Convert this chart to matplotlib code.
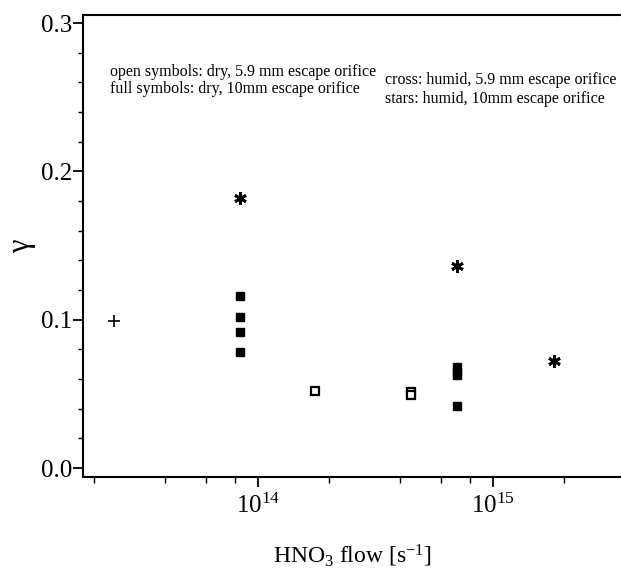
import math
import matplotlib
matplotlib.use("Agg")
import matplotlib.pyplot as plt
from matplotlib.ticker import FixedLocator, FuncFormatter, MultipleLocator, NullFormatter

plt.rcParams['font.family'] = ['Liberation Serif', 'DejaVu Serif']
plt.rcParams['mathtext.fontset'] = 'custom'
plt.rcParams['mathtext.rm'] = 'Liberation Serif'
plt.rcParams['mathtext.it'] = 'Liberation Serif:italic'

# cross: humid, 5.9 mm orifice
cross_x = [2.44e13]
cross_y = [0.099]
# full symbols: dry, 10 mm orifice
full_x = [8.4e13, 8.4e13, 8.4e13, 8.4e13, 7.0e14, 7.0e14, 7.0e14, 7.0e14]
full_y = [0.116, 0.102, 0.092, 0.078, 0.068, 0.065, 0.063, 0.042]
# open symbols: dry, 5.9 mm orifice
open_x = [1.74e14, 4.48e14, 4.48e14]
open_y = [0.052, 0.0515, 0.0495]
# stars: humid, 10 mm orifice
star_x = [8.4e13, 7.0e14, 1.82e15]
star_y = [0.182, 0.136, 0.072]

x_ticks = [1e14, 1e15]
y_ticks = [0.0, 0.1, 0.2, 0.3]

fig = plt.figure(figsize=(6.21, 5.88), dpi=100)
ax = fig.add_axes([0.1337, 0.1888, 0.8663, 0.7857])

ax.plot(cross_x, cross_y, linestyle='none', marker='+', ms=9, mew=1.2, color='black')
ax.plot(full_x, full_y, linestyle='none', marker='s', ms=6, color='black')
ax.plot(open_x, open_y, linestyle='none', marker='s', ms=6, mfc='white', mec='black', mew=1.6)
ax.plot(star_x, star_y, linestyle='none', marker=(6, 2, 0), ms=9, mew=2.0, color='black')

ax.set_xscale('log')
ax.set_xlim(1.80e13, 3.5e15)
ax.set_ylim(-0.006, 0.3055)

ax.xaxis.set_major_locator(FixedLocator(x_ticks))
ax.xaxis.set_major_formatter(FuncFormatter(lambda v, p: r'$\mathregular{10^{%d}}$' % round(math.log10(v))))
minors = [m * 10.0 ** e for e in (13, 14, 15) for m in (2, 4, 6, 8)]
ax.xaxis.set_minor_locator(FixedLocator(minors))
ax.xaxis.set_minor_formatter(NullFormatter())

ax.yaxis.set_major_locator(FixedLocator(y_ticks))
ax.yaxis.set_major_formatter(FuncFormatter(lambda v, p: '%.1f' % v))
ax.yaxis.set_minor_locator(MultipleLocator(0.02))

for s in ('left', 'bottom', 'top'):
    ax.spines[s].set_linewidth(1.5)
ax.spines['right'].set_visible(False)

ax.tick_params(axis='both', which='major', direction='out', length=7, width=1.3, colors='black')
ax.tick_params(axis='both', which='minor', direction='out', length=3.5, width=1.0)
ax.tick_params(axis='x', which='minor', length=4)
ax.tick_params(axis='y', which='major', labelsize=18, pad=1)
ax.tick_params(axis='x', which='major', labelsize=18, pad=5)

ax.set_xlabel(r'HNO$_3$ flow [s$^{\mathregular{-1}}$]', fontsize=17, labelpad=18)
ax.set_ylabel('γ', fontsize=22, labelpad=3)

tk = dict(transform=ax.transAxes, fontsize=11.5, ha='left', va='center')
ax.text(0.050, 0.877, 'open symbols: dry, 5.9 mm escape orifice', **tk)
ax.text(0.050, 0.840, 'full symbols: dry, 10mm escape orifice', **tk)
ax.text(0.561, 0.859, 'cross: humid, 5.9 mm escape orifice', **tk)
ax.text(0.561, 0.818, 'stars: humid, 10mm escape orifice', **tk)

fig.savefig('out.png', dpi=100)
